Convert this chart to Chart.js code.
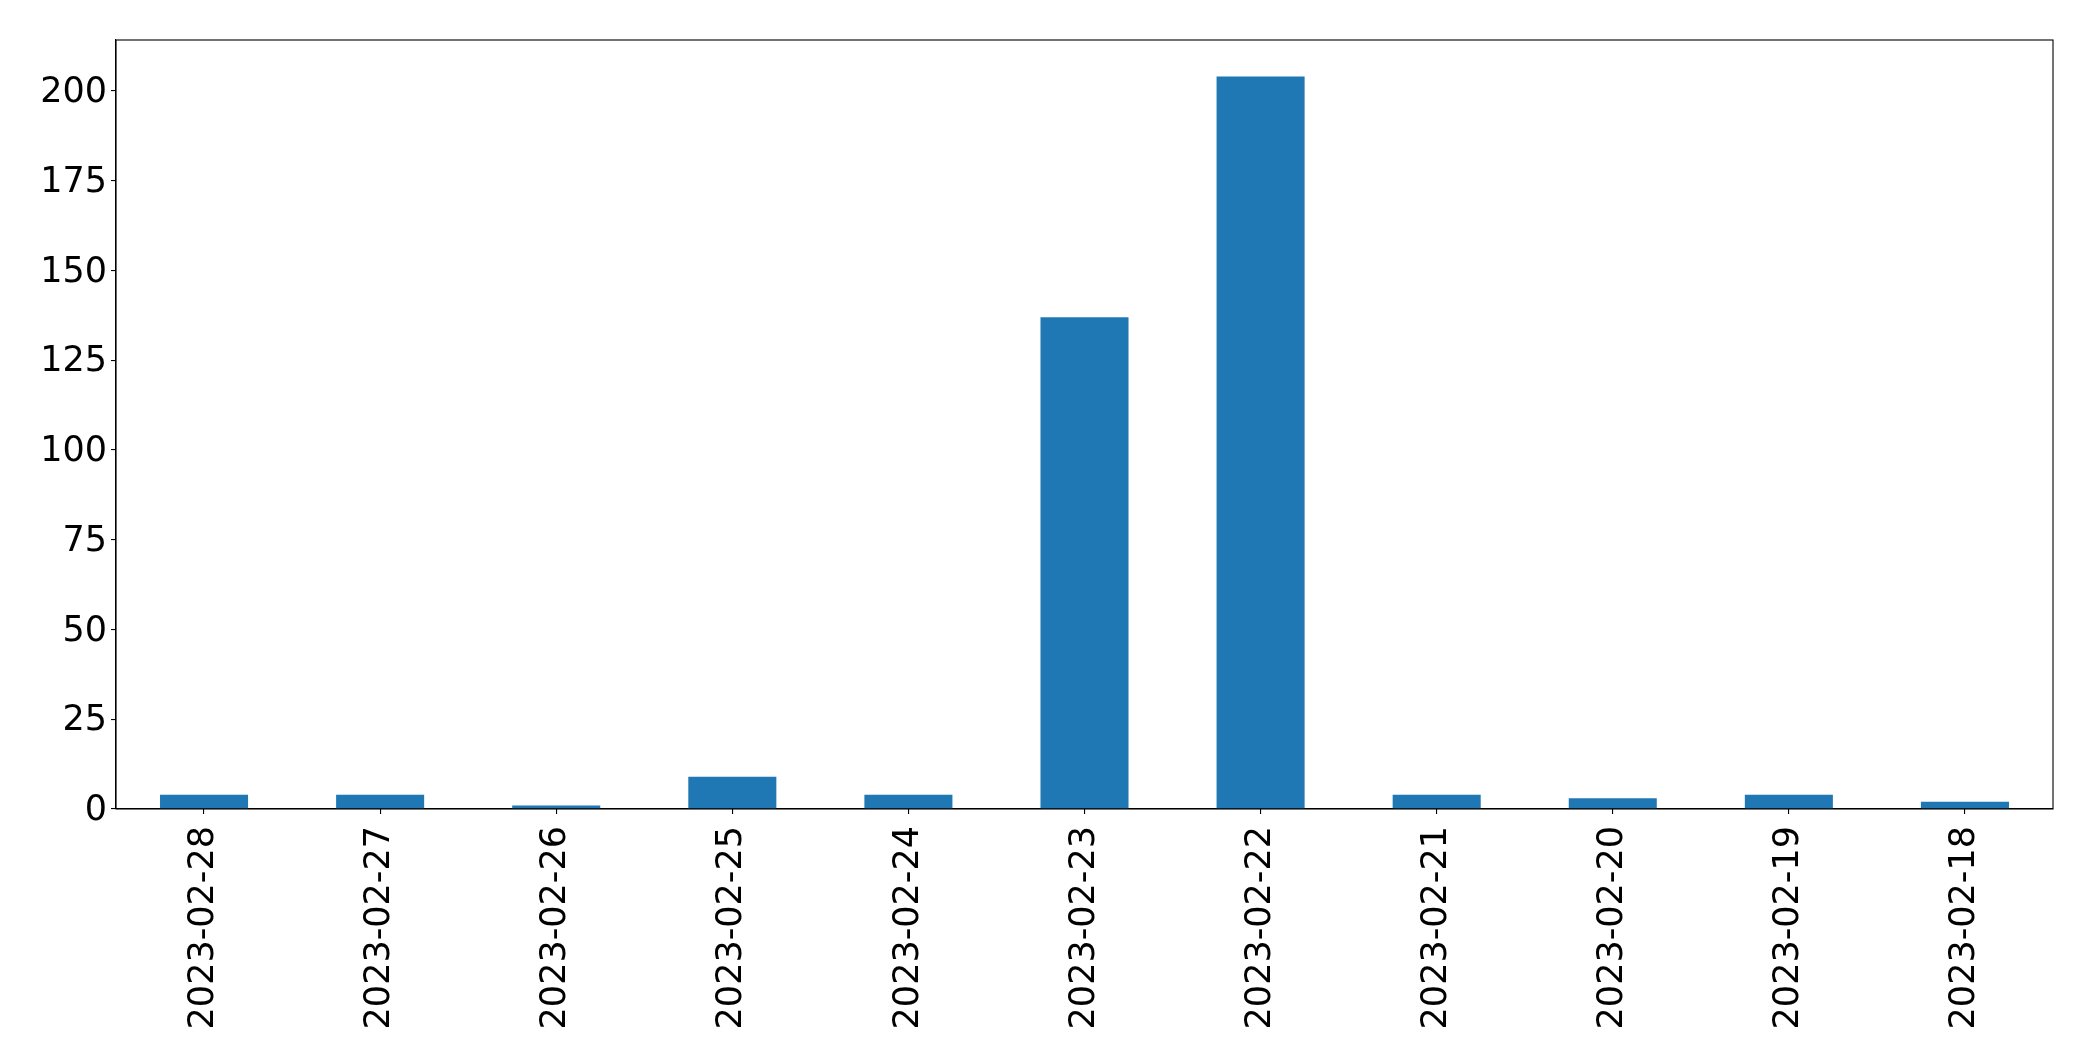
<!DOCTYPE html>
<html>
<head>
<meta charset="utf-8">
<style>
  html, body { margin: 0; padding: 0; background: #ffffff; }
  #wrap { width: 2093px; height: 1061px; position: relative; }
</style>
<script src="https://cdn.jsdelivr.net/npm/chart.js@4"></script>
</head>
<body>
<div id="wrap"><canvas id="c" width="2093" height="1061"></canvas></div>
<script>
const categories = ["2023-02-28","2023-02-27","2023-02-26","2023-02-25","2023-02-24","2023-02-23","2023-02-22","2023-02-21","2023-02-20","2023-02-19","2023-02-18"];
const counts = [4, 4, 1, 9, 4, 137, 204, 4, 3, 4, 2];
const yTicks = [0, 25, 50, 75, 100, 125, 150, 175, 200];

const frame = {
  id: 'frame',
  afterDraw(chart) {
    const a = chart.chartArea, ctx = chart.ctx;
    ctx.save();
    ctx.strokeStyle = '#000';
    ctx.lineWidth = 1.1;
    ctx.strokeRect(a.left, a.top, a.right - a.left, a.bottom - a.top);
    ctx.restore();
  }
};

new Chart(document.getElementById('c'), {
  type: 'bar',
  data: {
    labels: categories,
    datasets: [{
      data: counts,
      backgroundColor: '#1f77b4',
      borderWidth: 0,
      barPercentage: 0.5,
      categoryPercentage: 1.0
    }]
  },
  options: {
    responsive: false,
    animation: false,
    devicePixelRatio: 1,
    layout: { padding: { top: 40, right: 40, left: 0, bottom: 0 } },
    plugins: { legend: { display: false }, tooltip: { enabled: false } },
    scales: {
      x: {
        offset: true,
        grid: { display: true, offset: false, drawOnChartArea: false, drawTicks: true, tickLength: 5, color: '#000', lineWidth: 1.1 },
        border: { display: true, color: '#000', width: 1.1 },
        ticks: {
          color: '#000',
          font: { family: 'DejaVu Sans', size: 35 },
          maxRotation: 90, minRotation: 90,
          padding: 12,
          autoSkip: false
        },
        afterFit(s) { s.height = 252; }
      },
      y: {
        min: 0,
        max: 214.2,
        grid: { display: true, drawOnChartArea: false, drawTicks: true, tickLength: 5, color: '#000', lineWidth: 1.1 },
        border: { display: true, color: '#000', width: 1.1 },
        ticks: {
          color: '#000',
          font: { family: 'DejaVu Sans', size: 35 },
          padding: 4,
          labelOffset: 2,
          stepSize: 25,
          includeBounds: false
        },
        afterBuildTicks(s) { s.ticks = yTicks.map(v => ({ value: v })); },
        afterFit(s) { s.width = 116; }
      }
    }
  },
  plugins: [frame]
});
</script>
</body>
</html>
